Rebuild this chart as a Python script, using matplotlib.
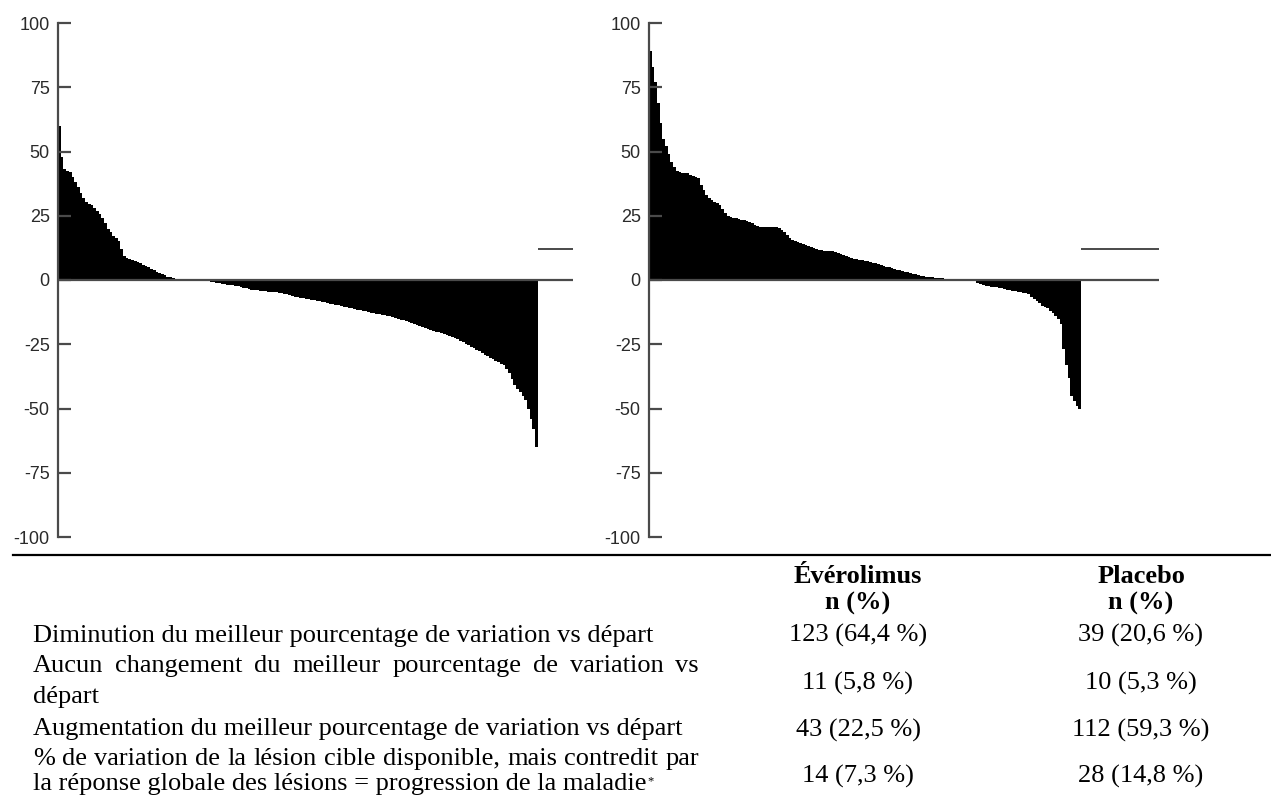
import matplotlib
matplotlib.use("Agg")
import matplotlib.pyplot as plt
import numpy as np

# Best percentage change from baseline, sorted (one step per patient)
everolimus_change = [
    60, 48, 43, 42.5, 42, 40, 38, 36, 34, 32, 30.5, 29.5, 29, 28, 27, 25.5,
    24, 22, 20, 18.5, 17, 16.5, 15, 12, 9.5, 8.5, 8, 7.8, 7.5, 7, 6.5, 6,
    5.5, 5, 4.3, 3.8, 3.2, 2.7, 2.2, 1.8, 1.3, 1, 0.8,
    0, 0, 0, 0, 0, 0, 0, 0, 0, 0, 0,
    -0.3, -0.5, -0.7, -0.9, -1.1, -1.3, -1.5, -1.7, -1.8, -1.9, -2.0, -2.2,
    -2.5, -2.8, -3.0, -3.3, -3.5, -3.7, -3.9, -4.0, -4.2, -4.3, -4.4, -4.5,
    -4.6, -4.7, -4.8, -4.9, -5.0, -5.3, -5.6, -5.9, -6.2, -6.5, -6.7, -6.9,
    -7.1, -7.3, -7.5, -7.7, -7.9, -8.1, -8.3, -8.5, -8.7, -8.9, -9.2, -9.4,
    -9.7, -9.9, -10.2, -10.4, -10.6, -10.8, -11.0, -11.2, -11.5, -11.7, -12.0,
    -12.2, -12.4, -12.7, -12.9, -13.1, -13.3, -13.5, -13.6, -13.9, -14.2,
    -14.5, -14.8, -15.1, -15.4, -15.7, -16.0, -16.4, -16.8, -17.2, -17.6,
    -18.0, -18.4, -18.8, -19.2, -19.5, -19.8, -20.1, -20.4, -20.7, -21.0,
    -21.4, -21.8, -22.2, -22.6, -23.0, -23.6, -24.2, -24.8, -25.4, -26.0,
    -26.6, -27.2, -27.8, -28.4, -29.0, -29.6, -30.2, -30.8, -31.4, -32.0,
    -32.5, -33.0, -34.5, -36.0, -38.5, -41.0, -42.5, -43.5, -45.0, -46.5,
    -50.0, -54.0, -58.0, -65.0,
]

placebo_change = [
    89, 83, 77, 69, 61, 55, 52, 49, 46, 44, 42.5, 42, 41.8, 41.6, 41.5, 41,
    40.5, 40, 39.5, 37, 35, 33, 32, 31, 30.5, 30, 29, 27.5, 26, 24.8, 24.5,
    24.3, 24, 23.7, 23.4, 23.2, 23, 22.5, 22, 21.5, 21, 20.8, 20.7, 20.6,
    20.6, 20.6, 20.5, 20.5, 20.4, 19.5, 18.5, 17.5, 16.5, 15.6, 15.2, 14.8,
    14.4, 14, 13.6, 13.2, 12.8, 12.4, 12, 11.7, 11.5, 11.4, 11.3, 11.2, 11.1,
    10.8, 10.4, 10, 9.6, 9.2, 8.8, 8.5, 8.2, 8, 7.8, 7.6, 7.4, 7.2, 7, 6.8,
    6.6, 6.4, 6, 5.6, 5.2, 4.9, 4.6, 4.3, 4, 3.8, 3.6, 3.3, 3, 2.8, 2.5, 2.2,
    1.9, 1.7, 1.5, 1.3, 1.1, 1, 0.9, 0.8, 0.7, 0.6, 0.5, 0.4,
    0, 0, 0, 0, 0, 0, 0, 0, 0, 0,
    -1.3, -1.6, -1.9, -2.2, -2.4, -2.6, -2.7, -2.9, -3.1, -3.3, -3.5, -3.7,
    -3.9, -4.1, -4.3, -4.5, -4.8, -5.0, -5.2, -5.5, -6.5, -7.5, -8.2, -9.0,
    -10.0, -10.5, -11.0, -12.0, -13.0, -14.0, -15.0, -17.0, -27.0, -33.0,
    -38.0, -45.0, -47.0, -49.0, -50.0,
]

y_ticks = [100, 75, 50, 25, 0, -25, -50, -75, -100]
marker_level = 12  # short stray line at the right end of each panel

row_labels = [
    "Diminution du meilleur pourcentage de variation vs départ",
    "Aucun changement du meilleur pourcentage de variation vs",
    "départ",
    "Augmentation du meilleur pourcentage de variation vs départ",
    "% de variation de la lésion cible disponible, mais contredit par",
    "la réponse globale des lésions = progression de la maladie",
]
justified_rows = [1, 4]
col_headers = ["Évérolimus", "Placebo"]
everolimus_n = ["123 (64,4 %)", "11 (5,8 %)", "43 (22,5 %)", "14 (7,3 %)"]
placebo_n = ["39 (20,6 %)", "10 (5,3 %)", "112 (59,3 %)", "28 (14,8 %)"]

W, H = 1271, 795
fig = plt.figure(figsize=(W / 100, H / 100), dpi=100)

AX_GRAY = "#4a4a4a"


def px(x, y):
    return x / W, 1 - y / H


def waterfall(rect, values):
    ax = fig.add_axes(rect)
    edges = np.arange(len(values) + 1)
    ax.stairs(values, edges, baseline=0, fill=True, color="black", lw=0)
    ax.set_xlim(0, 190)
    ax.set_ylim(-100, 100)
    ax.axhline(0, color=AX_GRAY, lw=1.6, zorder=3)
    ax.hlines(marker_level, len(values), 190, color=AX_GRAY, lw=1.4)
    for s in ["top", "right", "bottom"]:
        ax.spines[s].set_visible(False)
    ax.spines["left"].set_color(AX_GRAY)
    ax.spines["left"].set_linewidth(1.6)
    ax.set_xticks([])
    ax.set_yticks(y_ticks)
    ax.set_yticklabels([str(t) for t in y_ticks])
    ax.tick_params(axis="y", direction="in", length=9, width=1.6,
                   color=AX_GRAY, labelcolor="#2a2a2a", labelsize=13, pad=6)
    for lab in ax.get_yticklabels():
        lab.set_family(["Liberation Sans", "DejaVu Sans"])
    ax.patch.set_alpha(0)
    return ax


waterfall([58 / W, (H - 537) / H, 515 / W, 514 / H], everolimus_change)
waterfall([649 / W, (H - 537) / H, 510 / W, 514 / H], placebo_change)

# separator rule above the table
fig.add_artist(plt.Line2D([13 / W, 1.0], [1 - 555 / H, 1 - 555 / H],
                          color="black", lw=1.6))

serif = ["Liberation Serif", "DejaVu Serif"]
FS = 19
renderer = fig.canvas.get_renderer()

row_baselines = [642, 672, 703, 735, 765, 790]
x_left, x_right = 33, 699
for i, (label, yb) in enumerate(zip(row_labels, row_baselines)):
    if i in justified_rows:
        words = label.split(" ")
        texts = [fig.text(0, 1 - yb / H, w, family=serif, fontsize=FS,
                          va="baseline", ha="left") for w in words]
        widths = [t.get_window_extent(renderer).width for t in texts]
        gap = (x_right - x_left - sum(widths)) / (len(words) - 1)
        xx = x_left
        for t, w in zip(texts, widths):
            t.set_x(xx / W)
            xx += w + gap
    else:
        t = fig.text(*px(x_left, yb), label, family=serif, fontsize=FS,
                     va="baseline", ha="left")
        if i == len(row_labels) - 1:
            ext = t.get_window_extent(renderer)
            fig.text(*px(ext.x1 + 1, yb - 6), "*", family=serif,
                     fontsize=9, va="baseline", ha="left")

col_x = [858, 1141]
for cx, head, vals in zip(col_x, col_headers, [everolimus_n, placebo_n]):
    fig.text(*px(cx, 583), head, family=serif, fontsize=FS,
             fontweight="bold", ha="center", va="baseline")
    fig.text(*px(cx, 610), "n (%)", family=serif, fontsize=FS,
             fontweight="bold", ha="center", va="baseline")
    for v, yb in zip(vals, [642, 690, 737, 783]):
        fig.text(*px(cx, yb), v, family=serif, fontsize=FS,
                 ha="center", va="baseline")

fig.savefig("out.png", dpi=100)
